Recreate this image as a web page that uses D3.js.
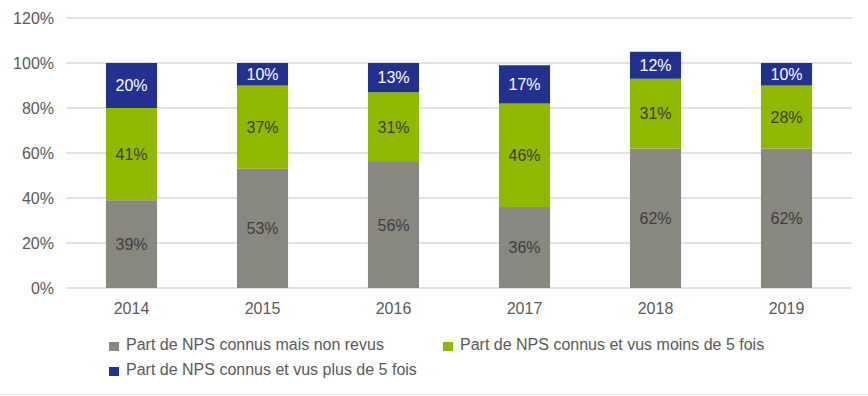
<!DOCTYPE html>
<html>
<head>
<meta charset="utf-8">
<script src="https://cdn.jsdelivr.net/npm/d3@7"></script>
<style>
  body { margin: 0; background: #fff; }
  text { font-family: "Liberation Sans", Arial, sans-serif; }
</style>
</head>
<body>
<div id="canvas"></div>
<script>
"use strict"

/* Data */
let years = ["2014", "2015", "2016", "2017", "2018", "2019"];
let nonRevus = [39, 53, 56, 36, 62, 62];
let moins5 = [41, 37, 31, 46, 31, 28];
let plus5 = [20, 10, 13, 17, 12, 10];
let seriesNames = [
    "Part de NPS connus mais non revus",
    "Part de NPS connus et vus moins de 5 fois",
    "Part de NPS connus et vus plus de 5 fois"
];
let yTicks = [0, 20, 40, 60, 80, 100, 120];

/* Configuration */
let svgWidth = 868;
let svgHeight = 396;
let plotLeft = 66, plotRight = 852, plotTop = 18, plotBottom = 288;
let colors = ["#898880", "#8fb800", "#23318e"];
let labelColors = ["#3d3d3d", "#3d3d3d", "#ffffff"];
let fontSize = 16;

let svg = d3.select("#canvas")
    .append("svg")
    .attr("width", svgWidth)
    .attr("height", svgHeight);

let x = d3.scaleBand()
    .domain(years)
    .range([plotLeft, plotRight])
    .paddingInner(0.61)
    .paddingOuter(0.305);

let y = d3.scaleLinear()
    .domain([0, 120])
    .range([plotBottom, plotTop]);

/* Gridlines */
svg.selectAll("line.grid")
    .data(yTicks)
    .join("line")
    .attr("class", "grid")
    .attr("x1", plotLeft)
    .attr("x2", plotRight)
    .attr("y1", d => y(d))
    .attr("y2", d => y(d))
    .attr("stroke", "#d9d9d9")
    .attr("stroke-width", 1.5);

/* Y tick labels */
svg.selectAll("text.ytick")
    .data(yTicks)
    .join("text")
    .attr("class", "ytick")
    .attr("x", 54)
    .attr("y", d => y(d))
    .attr("dy", "0.35em")
    .attr("text-anchor", "end")
    .attr("font-size", fontSize)
    .attr("fill", "#595959")
    .text(d => d + "%");

/* X labels */
svg.selectAll("text.xtick")
    .data(years)
    .join("text")
    .attr("class", "xtick")
    .attr("x", d => x(d) + x.bandwidth() / 2)
    .attr("y", 314)
    .attr("text-anchor", "middle")
    .attr("font-size", fontSize)
    .attr("fill", "#595959")
    .text(d => d);

/* Stacked data */
let rows = years.map((yr, i) => ({ year: yr, a: nonRevus[i], b: moins5[i], c: plus5[i] }));
let stack = d3.stack().keys(["a", "b", "c"]);
let layers = stack(rows);

let groups = svg.selectAll("g.layer")
    .data(layers)
    .join("g")
    .attr("class", "layer")
    .attr("fill", (d, i) => colors[i]);

groups.selectAll("rect")
    .data(d => d)
    .join("rect")
    .attr("x", d => x(d.data.year))
    .attr("y", d => y(d[1]))
    .attr("width", x.bandwidth())
    .attr("height", d => y(d[0]) - y(d[1]));

layers.forEach((layer, i) => {
    svg.selectAll("text.lab" + i)
        .data(layer)
        .join("text")
        .attr("class", "lab" + i)
        .attr("x", d => x(d.data.year) + x.bandwidth() / 2)
        .attr("y", d => y((d[0] + d[1]) / 2))
        .attr("dy", "0.35em")
        .attr("text-anchor", "middle")
        .attr("font-size", fontSize)
        .attr("fill", labelColors[i])
        .text(d => (d[1] - d[0]) + "%");
});

/* Legend */
let legendPos = [[109, 350], [443, 350], [109, 375]];
let legend = svg.selectAll("g.legend")
    .data(seriesNames)
    .join("g")
    .attr("class", "legend")
    .attr("transform", (d, i) => `translate(${legendPos[i][0]},${legendPos[i][1]})`);

legend.append("rect")
    .attr("x", 0)
    .attr("y", -8)
    .attr("width", 10)
    .attr("height", 9)
    .attr("fill", (d, i) => colors[i]);

legend.append("text")
    .attr("x", 17)
    .attr("y", 0)
    .attr("font-size", fontSize)
    .attr("fill", "#595959")
    .text(d => d);

/* Bottom border */
svg.append("line")
    .attr("x1", 0)
    .attr("x2", svgWidth)
    .attr("y1", 394.5)
    .attr("y2", 394.5)
    .attr("stroke", "#e6e6e6");
</script>
</body>
</html>
